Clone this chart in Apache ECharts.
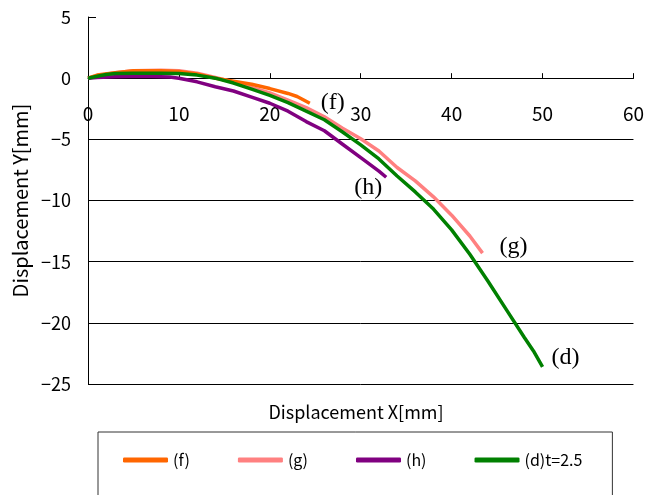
<!DOCTYPE html>
<html>
<head>
<meta charset="utf-8">
<script src="https://cdn.jsdelivr.net/npm/echarts@6/dist/echarts.min.js"></script>
<style>
  html, body { margin: 0; padding: 0; background: #fff; }
  #chart { width: 647px; height: 495px; }
</style>
</head>
<body>
<div id="chart"></div>
<script>
// [x, y] in mm
const fData = [[0, 0], [1, 0.25], [3, 0.45], [5, 0.6], [8, 0.6], [10, 0.55], [12, 0.35], [14, 0.0], [16, -0.25], [18, -0.5], [20, -0.85], [22, -1.25], [23, -1.5], [24.4, -2.05]];
const gData = [[0, 0], [1, 0.2], [3, 0.45], [5, 0.6], [8, 0.65], [10, 0.6], [12, 0.4], [14, 0.05], [16, -0.3], [18, -0.75], [20, -1.2], [22, -1.8], [24, -2.4], [26, -3.15], [28, -4.1], [30, -4.95], [32, -5.95], [34, -7.3], [36, -8.4], [38, -9.7], [40, -11.2], [42, -12.9], [43.4, -14.3]];
const hData = [[0, 0], [1, 0.05], [3, 0.12], [6, 0.15], [9, 0.1], [10, 0.0], [12, -0.3], [14, -0.7], [16, -1.05], [18, -1.55], [20, -2.05], [22, -2.7], [24, -3.55], [26, -4.3], [28, -5.4], [30, -6.5], [32, -7.6], [32.8, -8.1]];
const dData = [[0, 0], [1, 0.15], [2, 0.3], [3, 0.38], [5, 0.4], [8, 0.4], [10, 0.38], [12, 0.25], [14, 0.0], [16, -0.4], [18, -0.9], [20, -1.4], [22, -2.0], [24, -2.7], [26, -3.4], [28, -4.4], [30, -5.45], [32, -6.6], [34, -8.0], [36, -9.3], [38, -10.7], [40, -12.4], [42, -14.4], [44, -16.6], [46, -18.9], [48, -21.2], [49, -22.3], [50, -23.6]];

const seriesNames = ['(f)', '(g)', '(h)', '(d)t=2.5'];
const endLabels = ['(f)', '(g)', '(h)', '(d)'];
const colors = ['#FF6600', '#FF8080', '#800080', '#008000'];
const labelOffsets = [[3, -1], [9, -6], [-40, 10], [1, -9]];

const font = '"Noto Sans CJK JP", sans-serif';
const serif = '"Liberation Serif", "DejaVu Serif", serif';

const chart = echarts.init(document.getElementById('chart'));

const series = [fData, gData, hData, dData].map((data, i) => ({
  name: seriesNames[i],
  type: 'line',
  data: data,
  showSymbol: false,
  symbol: 'none',
  lineStyle: { color: colors[i], width: 3.5 },
  itemStyle: { color: colors[i] },
  z: i === 1 ? 2 : 3,
  endLabel: {
    show: true,
    formatter: endLabels[i],
    fontFamily: serif,
    fontSize: 24,
    color: '#000',
    offset: labelOffsets[i]
  }
}));

// plot spans y 5 .. -25 over 367px; the x axis sits on y = 0
const gridTop = 17, gridHeight = 367;
const zeroOffset = -gridHeight * 5 / 30;

chart.setOption({
  animation: false,
  backgroundColor: '#fff',
  title: {
    text: 'Displacement X[mm]',
    left: 351,
    top: 398,
    textAlign: 'center',
    textStyle: { fontFamily: font, fontSize: 18, fontWeight: 'normal', color: '#000' }
  },
  grid: { left: 88, right: 13, top: gridTop, bottom: 495 - gridTop - gridHeight },
  legend: {
    left: 98,
    top: 432,
    width: 500,
    padding: [20, 30, 60, 25],
    borderColor: '#333',
    borderWidth: 1,
    itemGap: 48,
    itemWidth: 45,
    itemHeight: 5,
    icon: 'roundRect',
    textStyle: { fontFamily: font, fontSize: 16, color: '#000' },
    data: seriesNames
  },
  xAxis: {
    type: 'value',
    min: 0,
    max: 60,
    interval: 10,
    position: 'top',
    offset: zeroOffset,
    axisLine: { onZero: false, lineStyle: { color: '#000', width: 1 } },
    axisTick: { inside: false, length: 5, lineStyle: { color: '#000' } },
    axisLabel: { inside: true, margin: 26, fontFamily: font, fontSize: 19, color: '#000' },
    splitLine: { show: false }
  },
  yAxis: {
    type: 'value',
    min: -25,
    max: 5,
    interval: 5,
    name: 'Displacement Y[mm]',
    nameLocation: 'middle',
    nameGap: 56,
    nameTextStyle: { fontFamily: font, fontSize: 20, color: '#000' },
    axisLine: { show: true, onZero: false, lineStyle: { color: '#000', width: 1 } },
    axisTick: { show: true, inside: true, length: 8, lineStyle: { color: '#000' } },
    axisLabel: {
      margin: 17, fontFamily: font, fontSize: 18, color: '#000',
      formatter: v => String(v).replace('-', '\u2212')
    },
    splitLine: { show: true, showMaxLine: false, lineStyle: { color: '#000', width: 1 } }
  },
  series: series
});
</script>
</body>
</html>
